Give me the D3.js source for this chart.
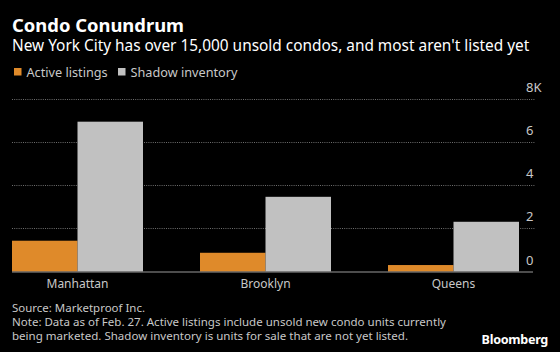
<!DOCTYPE html>
<html>
<head>
<meta charset="utf-8">
<script src="https://cdn.jsdelivr.net/npm/d3@7"></script>
<style>
  body { margin: 0; background: #000; }
  svg { display: block; font-family: "Noto Sans", "DejaVu Sans", sans-serif; }
</style>
</head>
<body>
<div id="chart"></div>
<script>
// data (thousands of units)
var boroughs = ["Manhattan", "Brooklyn", "Queens"];
var activeListings = [1.43, 0.87, 0.30];
var shadowInventory = [6.96, 3.47, 2.31];
var seriesNames = ["Active listings", "Shadow inventory"];
var yTicks = [0, 2, 4, 6, 8];

var W = 560, H = 352;
var colors = ["#df8a2a", "#c1c1c1"];
var textGray = "#c8c8c8";

var svg = d3.select("#chart").append("svg")
    .attr("width", W)
    .attr("height", H);

svg.append("rect").attr("width", W).attr("height", H).attr("fill", "#000");

// titles
svg.append("text")
    .attr("x", 12).attr("y", 32)
    .attr("fill", "#fff")
    .style("font-size", "18.4px")
    .style("font-weight", "bold")
    .text("Condo Conundrum");

svg.append("text")
    .attr("x", 12).attr("y", 51)
    .attr("fill", "#fff")
    .style("font-size", "15.4px")
    .text("New York City has over 15,000 unsold condos, and most aren't listed yet");

// legend
var legendX = [14, 118];
seriesNames.forEach(function (name, i) {
    var g = svg.append("g").attr("transform", "translate(" + legendX[i] + ",68)");
    g.append("rect").attr("width", 7.5).attr("height", 7.5).attr("fill", colors[i]);
    g.append("text").attr("x", 12.5).attr("y", 8.5)
        .attr("fill", textGray)
        .style("font-size", "12.7px")
        .text(name);
});

// scales
var plotLeft = 12, plotRight = 535;
var y = d3.scaleLinear().domain([0, 8]).range([271.5, 99.3]);

var step = 188, gap = 57;
var x0 = d3.scaleBand()
    .domain(boroughs)
    .range([plotLeft, plotLeft + step * 3 - gap])
    .paddingInner(gap / step)
    .paddingOuter(0);

var x1 = d3.scaleBand()
    .domain([0, 1])
    .range([0, x0.bandwidth()]);

// gridlines
svg.append("g")
    .selectAll("line")
    .data(yTicks.filter(function (d) { return d > 0; }))
    .enter().append("line")
    .attr("x1", plotLeft).attr("x2", plotRight)
    .attr("y1", function (d) { return Math.round(y(d)) + 0.5; })
    .attr("y2", function (d) { return Math.round(y(d)) + 0.5; })
    .attr("stroke", "#6e6e6e")
    .attr("stroke-width", 1)
    .attr("stroke-dasharray", "1,1.2");

// y axis labels
var yAxis = d3.axisRight(y)
    .tickValues(yTicks)
    .tickSize(0)
    .tickFormat(function (d) { return d === 8 ? "8K" : d; });

var yAxisG = svg.append("g")
    .attr("transform", "translate(526,0)")
    .call(yAxis);
yAxisG.select(".domain").remove();
yAxisG.selectAll("text")
    .attr("x", 0)
    .attr("y", -7.5)
    .attr("dy", 0)
    .attr("text-anchor", "start")
    .attr("fill", textGray)
    .style("font-size", "13px")
    .style("font-family", "\"Noto Sans\", sans-serif");

// bars
var groups = svg.append("g")
    .selectAll("g")
    .data(boroughs)
    .enter().append("g")
    .attr("transform", function (d) { return "translate(" + x0(d) + ",0)"; });

groups.selectAll("rect")
    .data(function (d, i) { return [activeListings[i], shadowInventory[i]]; })
    .enter().append("rect")
    .attr("x", function (d, j) { return x1(j); })
    .attr("width", x1.bandwidth())
    .attr("y", function (d) { return y(d); })
    .attr("height", function (d) { return y(0) - y(d); })
    .attr("fill", function (d, j) { return colors[j]; });

// baseline
svg.append("line")
    .attr("x1", plotLeft).attr("x2", 533)
    .attr("y1", 272).attr("y2", 272)
    .attr("stroke", "#9a9a9a")
    .attr("stroke-width", 1);

// x axis labels
var xAxis = d3.axisBottom(x0).tickSize(0);
var xAxisG = svg.append("g")
    .attr("transform", "translate(0," + y(0) + ")")
    .call(xAxis);
xAxisG.select(".domain").remove();
xAxisG.selectAll("text")
    .attr("y", 16)
    .attr("dy", 0)
    .attr("fill", textGray)
    .style("font-size", "12px")
    .style("font-family", "\"Noto Sans\", sans-serif");

// footer (widths matched to the reference lines)
var footer = [
    "Source: Marketproof Inc.",
    "Note: Data as of Feb. 27. Active listings include unsold new condo units currently",
    "being marketed. Shadow inventory is units for sale that are not yet listed."
];
var footerWidths = [133, 434, 396];
svg.append("g").selectAll("text")
    .data(footer)
    .enter().append("text")
    .attr("x", 12)
    .attr("y", function (d, i) { return 312 + i * 14; })
    .attr("fill", textGray)
    .attr("textLength", function (d, i) { return footerWidths[i]; })
    .attr("lengthAdjust", "spacingAndGlyphs")
    .style("font-size", "11.6px")
    .text(function (d) { return d; });

svg.append("text")
    .attr("x", 548).attr("y", 344)
    .attr("text-anchor", "end")
    .attr("fill", "#fff")
    .style("font-size", "12.6px")
    .style("font-weight", "bold")
    .style("letter-spacing", "-0.3px")
    .text("Bloomberg");
</script>
</body>
</html>
